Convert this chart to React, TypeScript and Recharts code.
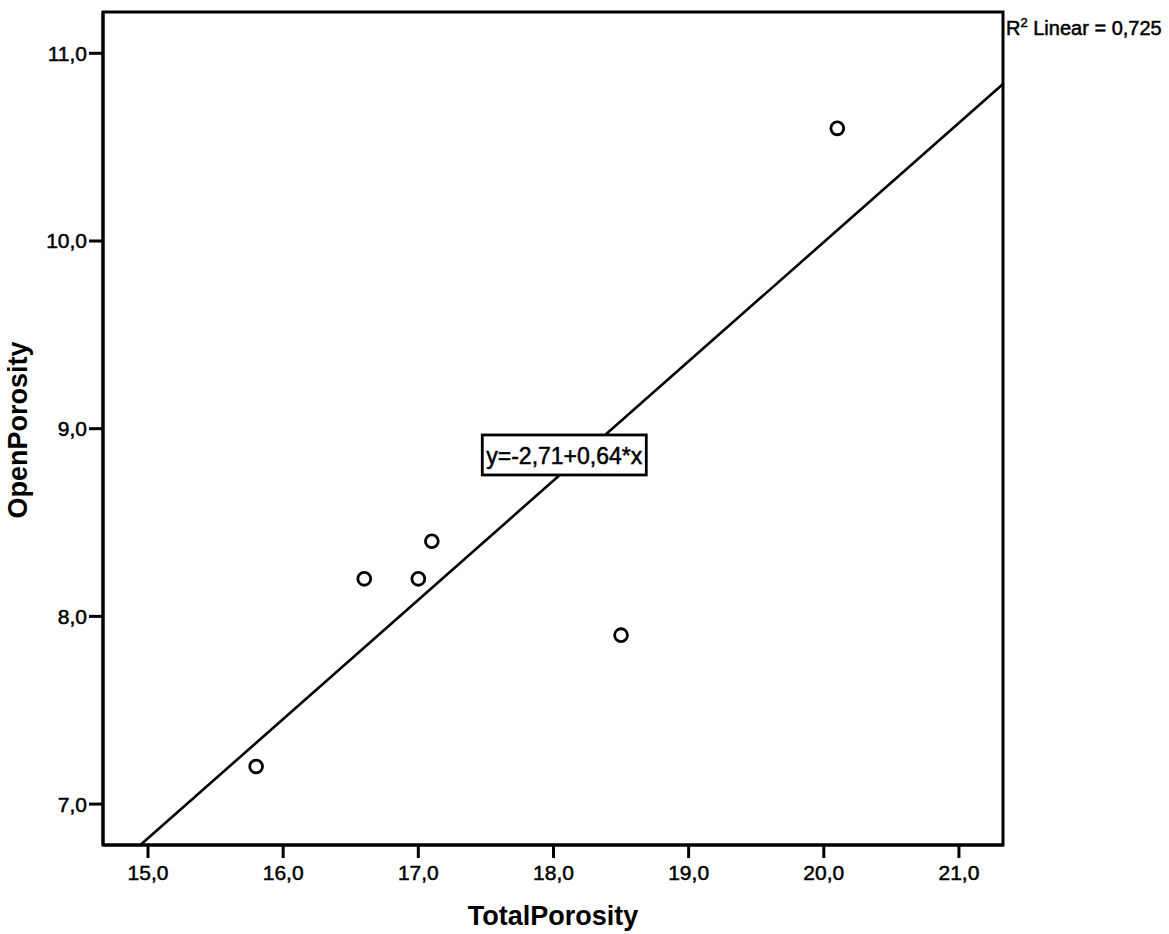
import React from 'react';
import {
  ScatterChart,
  Scatter,
  XAxis,
  YAxis,
  ReferenceLine,
  ReferenceArea,
  ReferenceDot,
  Label,
} from 'recharts';

// measured values (TotalPorosity vs OpenPorosity)
const totalPorosity = [15.8, 16.6, 17.0, 17.1, 18.5, 20.1];
const openPorosity = [7.2, 8.2, 8.2, 8.4, 7.9, 10.6];

const xTicks = [15, 16, 17, 18, 19, 20, 21];
const yTicks = [7, 8, 9, 10, 11];
const xDomain: [number, number] = [14.667, 21.326];
const yDomain: [number, number] = [6.782, 11.22];

const equationText = 'y=-2,71+0,64*x';
const rSquaredText = 'Linear = 0,725';
const equationAt = { x: 18.08, y: 8.86 };

const FONT = '"Liberation Sans", Arial, sans-serif';

const data = totalPorosity.map((x, i) => ({ x, y: openPorosity[i] }));

// least squares fit, drawn across the plot area
const n = data.length;
const mx = totalPorosity.reduce((s, v) => s + v, 0) / n;
const my = openPorosity.reduce((s, v) => s + v, 0) / n;
let sxy = 0;
let sxx = 0;
data.forEach((d) => {
  sxy += (d.x - mx) * (d.y - my);
  sxx += (d.x - mx) * (d.x - mx);
});
const slope = sxy / sxx;
const intercept = my - slope * mx;
const fitY = (x: number) => intercept + slope * x;
const fitStartX = Math.max(xDomain[0], (yDomain[0] - intercept) / slope);
const fitEndX = fitY(xDomain[1]) > yDomain[1] ? (yDomain[1] - intercept) / slope : xDomain[1];

const fmt = (v: number) => v.toFixed(1).replace('.', ',');

// the scanned original looks a bit heavy, so text gets a thin outline
const textStyle = { fontFamily: FONT, fill: '#000', stroke: '#000', strokeWidth: 0.5 };

const XTick = (props: any) => (
  <text x={props.x} y={props.y} dy="0.71em" textAnchor="middle" fontSize={21} {...textStyle}>
    {fmt(props.payload.value)}
  </text>
);

const YTick = (props: any) => (
  <text x={props.x} y={props.y} dy="0.355em" textAnchor="end" fontSize={21} {...textStyle}>
    {fmt(props.payload.value)}
  </text>
);

const OpenCircle = (props: any) => (
  <circle cx={props.cx} cy={props.cy} r={6.4} fill="none" stroke="#000" strokeWidth={2.8} />
);

const EquationBox = (props: any) => {
  const { cx, cy } = props;
  return (
    <g>
      <rect x={cx - 82} y={cy - 20} width={164} height={40} fill="#fff" stroke="#000" strokeWidth={2.8} />
      <text x={cx} y={cy + 9} textAnchor="middle" fontSize={23} {...textStyle}>
        {equationText}
      </text>
    </g>
  );
};

const RSquared = (props: any) => {
  const { cx, cy } = props;
  return (
    <text x={cx + 3} y={cy + 23} fontSize={20} {...textStyle}>
      R
      <tspan dy={-8} fontSize={13}>2</tspan>
      <tspan dy={8} fontSize={20}>{' ' + rSquaredText}</tspan>
    </text>
  );
};

const App: React.FC = () => {
  return (
    <div style={{ position: 'absolute', left: 0, top: 0, background: '#fff' }}>
      <ScatterChart width={1169} height={934} margin={{ top: 12, right: 166, bottom: 0, left: 0 }}>
        <XAxis
          type="number"
          dataKey="x"
          domain={xDomain}
          ticks={xTicks}
          height={89}
          tick={<XTick />}
          tickSize={13}
          tickMargin={7}
          axisLine={{ stroke: '#000', strokeWidth: 3 }}
          tickLine={{ stroke: '#000', strokeWidth: 3 }}
          allowDataOverflow
        >
          <Label
            content={() => (
              <text x={553} y={925} textAnchor="middle" fontFamily={FONT} fontSize={27} fontWeight="bold" fill="#000">
                TotalPorosity
              </text>
            )}
          />
        </XAxis>
        <YAxis
          type="number"
          dataKey="y"
          domain={yDomain}
          ticks={yTicks}
          width={103}
          tick={<YTick />}
          tickSize={14}
          tickMargin={2}
          axisLine={{ stroke: '#000', strokeWidth: 3 }}
          tickLine={{ stroke: '#000', strokeWidth: 3 }}
          allowDataOverflow
        >
          <Label
            content={() => (
              <text
                x={27}
                y={430}
                transform="rotate(-90, 27, 430)"
                textAnchor="middle"
                fontFamily={FONT}
                fontSize={27}
                fontWeight="bold"
                fill="#000"
              >
                OpenPorosity
              </text>
            )}
          />
        </YAxis>
        <ReferenceArea
          x1={xDomain[0]}
          x2={xDomain[1]}
          y1={yDomain[0]}
          y2={yDomain[1]}
          fill="none"
          fillOpacity={0}
          stroke="#000"
          strokeWidth={3}
          ifOverflow="visible"
        />
        <ReferenceLine
          segment={[
            { x: fitStartX, y: fitY(fitStartX) },
            { x: fitEndX, y: fitY(fitEndX) },
          ]}
          stroke="#000"
          strokeWidth={2.6}
          ifOverflow="visible"
        />
        <Scatter data={data} shape={OpenCircle} isAnimationActive={false} />
        <ReferenceDot x={equationAt.x} y={equationAt.y} shape={EquationBox} ifOverflow="visible" />
        <ReferenceDot x={xDomain[1]} y={yDomain[1]} shape={RSquared} ifOverflow="visible" />
      </ScatterChart>
    </div>
  );
};

export default App;
